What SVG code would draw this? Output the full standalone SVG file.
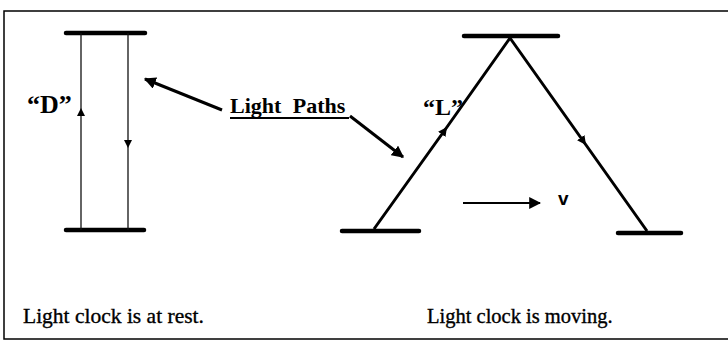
<svg xmlns="http://www.w3.org/2000/svg" width="728" height="341" viewBox="0 0 728 341">
<defs>
<style>
.mirror{stroke:#000;stroke-width:4.5;stroke-linecap:round}
.thin{stroke:#111;stroke-width:1.3;fill:none}
.diag{stroke:#000;stroke-width:3;fill:none}
.ptr{stroke:#000;stroke-width:3;fill:none}
.serifb{font-family:"Liberation Serif","Times New Roman",serif;font-weight:bold;fill:#000}
.serif{font-family:"Liberation Serif","Times New Roman",serif;fill:#000;stroke:#000;stroke-width:0.35}
</style>
<marker id="midS" viewBox="0 0 10 10" refX="10" refY="5" markerWidth="8" markerHeight="8" markerUnits="userSpaceOnUse" orient="auto"><path d="M0,0 L10,5 L0,10 z" fill="#000"/></marker>
<marker id="midL" viewBox="0 0 10 10" refX="10" refY="5" markerWidth="9" markerHeight="9" markerUnits="userSpaceOnUse" orient="auto"><path d="M0,0 L10,5 L0,10 z" fill="#000"/></marker>
<marker id="head" viewBox="0 0 10 10" refX="9" refY="5" markerWidth="12" markerHeight="12" markerUnits="userSpaceOnUse" orient="auto"><path d="M0,0 L10,5 L0,10 z" fill="#000"/></marker>
</defs>
<rect x="4" y="11" width="730" height="328" fill="#fff" stroke="#000" stroke-width="1.5"/>
<g id="clock-rest">
<line class="mirror" x1="66" y1="33" x2="145" y2="33"/>
<line class="mirror" x1="66" y1="230" x2="144" y2="230"/>
</g>
<g id="clock-moving">
<line class="mirror" x1="464" y1="36" x2="558" y2="36"/>
<line class="mirror" x1="342" y1="231" x2="419" y2="231"/>
<line class="mirror" x1="618" y1="233" x2="681" y2="233"/>
</g>
<g id="connectors">
<path class="thin" d="M81,230 L81,108 L81,33" marker-mid="url(#midS)"/>
<path class="thin" d="M128,33 L128,148 L128,230" marker-mid="url(#midS)"/>
<path class="diag" d="M374,229 L447,127 L510,38" marker-mid="url(#midL)"/>
<path class="diag" d="M510,38 L586,145 L647,231" marker-mid="url(#midL)"/>
<line class="ptr" x1="222" y1="110" x2="145" y2="79" marker-end="url(#head)"/>
<line class="ptr" x1="350" y1="116" x2="403" y2="157" marker-end="url(#head)"/>
<line stroke="#000" stroke-width="2" x1="463" y1="203" x2="540" y2="203" marker-end="url(#head)"/>
</g>
<g id="labels">
<text class="serifb" x="27" y="113" font-size="26">“D”</text>
<text class="serifb" x="230" y="113" font-size="22" word-spacing="6">Light Paths</text>
<line x1="230" y1="118" x2="349" y2="118" stroke="#000" stroke-width="1.8"/>
<text class="serifb" x="423" y="115" font-size="24">“L”</text>
<text x="558" y="205" font-family="'Liberation Sans',Arial,sans-serif" font-weight="bold" font-size="19" fill="#000">v</text>
<text class="serif" x="23" y="323" font-size="21.5">Light clock is at rest.</text>
<text class="serif" x="427" y="323" font-size="20.5">Light clock is moving.</text>
</g>
</svg>
